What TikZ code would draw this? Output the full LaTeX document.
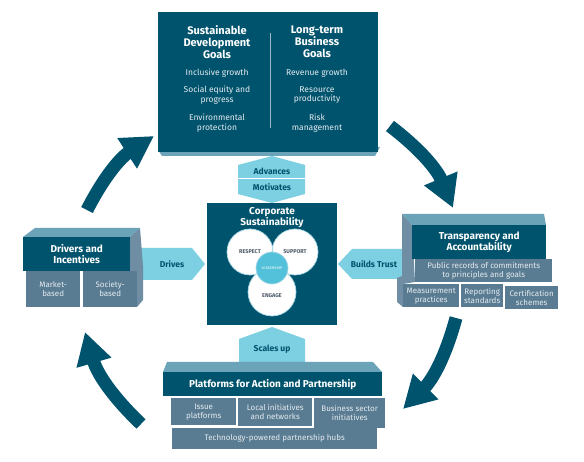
\documentclass[tikz,border=0pt]{standalone}
\usepackage{fontspec}
\setmainfont{Fira Sans}
\usetikzlibrary{arrows.meta}

\definecolor{deepteal}{HTML}{00536D}
\definecolor{topface}{HTML}{6BA3B8}
\definecolor{slatebox}{HTML}{5A7C92}
\definecolor{sideface}{HTML}{6F8DA3}
\definecolor{skyblue}{HTML}{7DD0E1}
\definecolor{ringline}{HTML}{A6D8E6}
\definecolor{leadfill}{HTML}{52C1D9}
\definecolor{venntext}{HTML}{4A5864}
\definecolor{paletext}{HTML}{E4EBF0}

\tikzset{
  darkblock/.style={fill=deepteal, text=white, align=center, inner sep=0pt, anchor=north west,
    font=\bfseries\fontsize{10}{11.5}\selectfont},
  slateblock/.style={fill=slatebox, text=paletext, align=center, inner sep=0pt, anchor=north west,
    font=\fontsize{8}{8.8}\selectfont},
  goaltitle/.style={text=white, align=center, font=\bfseries\fontsize{11}{12}\selectfont},
  goalitem/.style={text=paletext, align=center, font=\fontsize{8.5}{9.5}\selectfont},
  skytext/.style={text=deepteal, font=\bfseries\fontsize{8.5}{10}\selectfont},
  ring/.style={circle, fill=white, inner sep=0pt, text=venntext, font=\bfseries\fontsize{5.5}{6}\selectfont},
  cyclearrow/.style={draw=deepteal, line width=13pt, -{Triangle[length=32pt, width=34pt]}}
}

\begin{document}
\begin{tikzpicture}[x=1pt, y=-1pt]
\useasboundingbox (0,0) rectangle (584,462);

% cycle arrows
\coordinate (tltail) at (87,210);
\coordinate (tltip) at (154,136);
\coordinate (trtail) at (390,126);
\coordinate (trtip) at (453,208);
\coordinate (brtail) at (456,318);
\coordinate (brtip) at (403,409);
\coordinate (bltail) at (141,424);
\coordinate (bltip) at (85,332);
\draw[cyclearrow] (tltail) to[bend left=15] (tltip);
\draw[cyclearrow] (trtail) to[bend left=15] (trtip);
\draw[cyclearrow] (brtail) to[bend left=15] (brtip);
\draw[cyclearrow] (bltail) to[bend left=15] (bltip);

% goals
\fill[topface] (158,150) -- (380,147) -- (375,156) -- (162,156) -- cycle;
\node[darkblock, minimum width=220pt, minimum height=140pt] (goals) at (158,12) {};
\draw[white!60!deepteal, line width=0.8pt] (270,33) -- (270,128);
\node[goaltitle] (sdgtitle) at (217,42) {Sustainable\\Development\\Goals};
\node[goaltitle] (ltbtitle) at (317,42) {Long-term\\Business\\Goals};
\node[goalitem] (inclusive) at (217,73) {Inclusive growth};
\node[goalitem] (equity) at (217,95) {Social equity and\\progress};
\node[goalitem] (environment) at (217,123) {Environmental\\protection};
\node[goalitem] (revenue) at (317,73) {Revenue growth};
\node[goalitem] (resource) at (317,95) {Resource\\productivity};
\node[goalitem] (risk) at (317,123) {Risk\\management};

% advances / motivates
\fill[skyblue] (238,165) -- (272,156) -- (305,165) -- (305,194) -- (272,203) -- (238,194) -- cycle;
\draw[white, line width=1pt] (238,179) -- (305,179);
\node[skytext] (advances) at (272,171) {Advances};
\node[skytext] (motivates) at (272,187) {Motivates};

% corporate sustainability
\node[darkblock, minimum width=130pt, minimum height=122pt] (core) at (207,203) {};
\node[goaltitle, font=\bfseries\fontsize{10}{11}\selectfont] (coretitle) at (272,218) {Corporate\\Sustainability};
\node[ring, minimum size=46pt] (respect) at (250,252) {RESPECT};
\node[ring, minimum size=46pt] (support) at (295,252) {SUPPORT};
\node[ring, minimum size=48pt] (engage) at (272,292) {};
\draw[ringline, line width=0.7pt] (respect) circle[radius=23] (support) circle[radius=23] (engage) circle[radius=24];
\node[text=venntext, font=\bfseries\fontsize{5.5}{6}\selectfont] (engagetext) at (272,296) {ENGAGE};
\node[circle, fill=leadfill, draw=ringline, line width=0.7pt, minimum size=32pt, inner sep=0pt,
  text=white, font=\fontsize{3.8}{4}\selectfont] (leadership) at (272,268) {LEADERSHIP};

% drivers and incentives
\fill[skyblue] (138,248) -- (192,248) -- (205,264) -- (192,280) -- (138,280) -- cycle;
\node[skytext] (drives) at (172,264) {Drives};
\fill[topface] (23,237) -- (35,228) -- (140,228) -- (130,237) -- cycle;
\fill[sideface] (130,237) -- (140,228) -- (143,266) -- (143,300) -- (137,307) -- (137,271) -- (130,271) -- cycle;
\node[darkblock, minimum width=107pt, minimum height=34pt] (drivers) at (23,237) {Drivers and\\Incentives};
\node[slateblock, minimum width=54pt, minimum height=36pt] (market) at (26,271) {Market-\\based};
\node[slateblock, minimum width=54pt, minimum height=36pt] (society) at (83,271) {Society-\\based};

% transparency and accountability
\fill[skyblue] (338,264) -- (352,249) -- (408,249) -- (408,279) -- (352,279) -- cycle;
\node[skytext] (buildstrust) at (374,264) {Builds Trust};
\fill[topface] (402,214) -- (544,214) -- (546,225) -- (412,225) -- cycle;
\fill[sideface] (402,214) -- (412,225) -- (415,282) -- (403,284) -- (403,307) -- (397,302) -- (397,278) -- (402,276) -- cycle;
\node[darkblock, minimum width=134pt, minimum height=34pt] (transparency) at (412,225) {Transparency and\\Accountability};
\node[slateblock, minimum width=137pt, minimum height=23pt] (records) at (415,259) {Public records of commitments\\to principles and goals};
\node[slateblock, minimum width=56pt, minimum height=23pt] (measurement) at (403,284) {Measurement\\practices};
\node[slateblock, minimum width=42pt, minimum height=23pt] (reporting) at (461,284) {Reporting\\standards};
\node[slateblock, minimum width=53pt, minimum height=23pt] (certification) at (505,286) {Certification\\schemes};

% platforms for action and partnership
\fill[skyblue] (239,364) -- (239,339) -- (272,327) -- (305,339) -- (305,364) -- cycle;
\node[skytext] (scalesup) at (272,349) {Scales up};
\fill[topface] (163,372) -- (167,362) -- (373,362) -- (382,372) -- cycle;
\node[darkblock, minimum width=219pt, minimum height=24pt] (platforms) at (163,372) {Platforms for Action and Partnership};
\node[slateblock, minimum width=65pt, minimum height=27pt] (issue) at (171,398) {Issue\\platforms};
\node[slateblock, minimum width=74pt, minimum height=28pt] (local) at (238,398) {Local initiatives\\and networks};
\node[slateblock, minimum width=71pt, minimum height=30pt] (business) at (314,398) {Business sector\\initiatives};
\node[slateblock, minimum width=205pt, minimum height=21pt] (hubs) at (172,428) {Technology-powered partnership hubs};
\end{tikzpicture}
\end{document}
